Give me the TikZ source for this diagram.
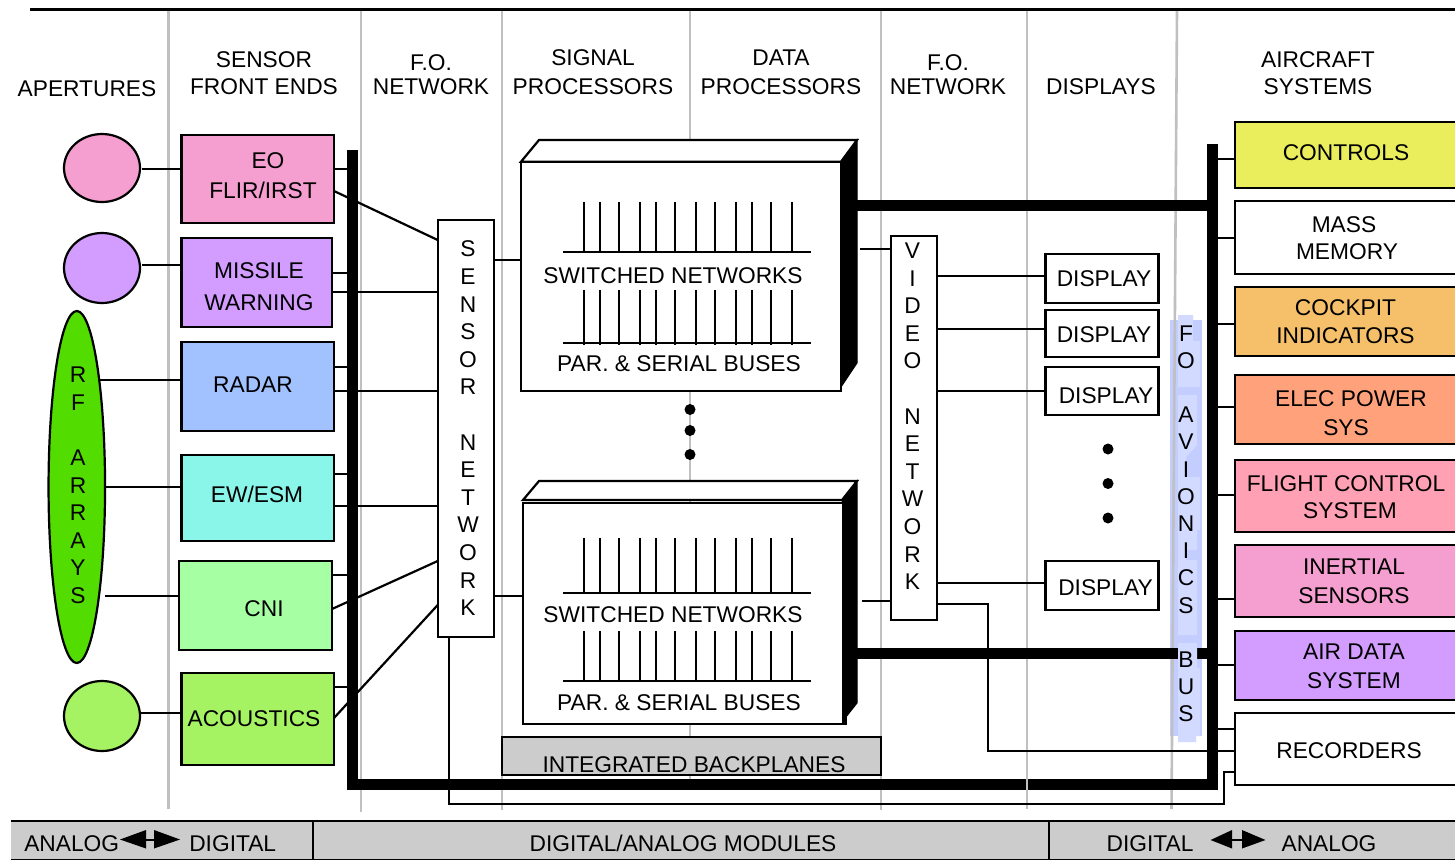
\documentclass[tikz,border=0pt]{standalone}
\usepackage{fontspec}
\setmainfont{Liberation Sans}
\usetikzlibrary{shapes.geometric,calc}
\definecolor{gridgrey}{HTML}{C0C0C0}
\definecolor{stripgrey}{HTML}{CCCCCC}
\definecolor{blueA}{HTML}{C3CEFF}
\definecolor{blueB}{HTML}{D2DBFF}
\definecolor{cPink}{HTML}{F49FCF}
\definecolor{cPurple}{HTML}{D39CFF}
\definecolor{cBlue}{HTML}{A2C1FF}
\definecolor{cCyan}{HTML}{8AF5E9}
\definecolor{cMint}{HTML}{A6FFA3}
\definecolor{cLime}{HTML}{A5F362}
\definecolor{cYellow}{HTML}{EAEE5C}
\definecolor{cOrange}{HTML}{F6BF69}
\definecolor{cSalmon}{HTML}{FFA17A}
\definecolor{cRose}{HTML}{FFA0B4}
\definecolor{cGreen}{HTML}{52DC00}
\newcommand\fsz{\fontsize{22.75}{27.6}\selectfont}
\newcommand\fszb{\fontsize{22.75}{27.2}\selectfont}
\tikzset{
  lbl/.style={font=\fsz,inner sep=0pt,outer sep=0pt,align=center,text=black,yshift=-0.8pt},
  boxn/.style={draw=black,line width=2.2pt,inner sep=0pt,outer sep=0pt,rectangle},
  solidbar/.style={fill=black,draw=none,inner sep=0pt,outer sep=0pt,rectangle},
  wire/.style={draw=black,line width=2.2pt},
  grid line/.style={draw=gridgrey,line width=2.6pt},
  apert/.style={ellipse,draw=black,line width=2.2pt,inner sep=0pt,outer sep=0pt},
  dot/.style={circle,fill=black,inner sep=0pt,minimum size=11pt},
}
% #1 name, #2 x0, #3 y0, #4 x1, #5 y1, #6 style options
\newcommand\rectn[6]{\node[#6,minimum width={(#4-#2)*1pt},minimum height={(#5-#3)*1pt}] (#1) at ({(#2+#4)/2},{(#3+#5)/2}) {};}
% horizontal connector at height #3 from anchor #1 to anchor #2
\newcommand\hw[3]{\draw[wire] (#1 |- 0,#3) -- (#2 |- 0,#3);}
\begin{document}
\begin{tikzpicture}[x=1pt,y=-1pt]
\useasboundingbox (0,0) rectangle (1455,860);
\fill[white] (0,0) rectangle (1455,860);

% FO avionics bus backing
\fill[blueA] (1170,320) rectangle (1202,736);
\fill[blueA] (1178,736) rectangle (1196,742);

% column separators
\draw[grid line] (168.5,10) -- (168.5,809);
\draw[grid line] (361,10) -- (361,812);
\draw[grid line] (502,10) -- (502,810);
\draw[grid line] (690,10) -- (690,780);
\draw[grid line] (881,10) -- (881,810);
\draw[grid line] (1027,10) -- (1027,809);
\draw[grid line] (1177,10) -- (1171.5,809);

% top rule
\draw[black,line width=3pt] (30,9.5) -- (1458,9.5);

% bottom strip
\rectn{strip}{10.7}{821}{1458}{860}{fill=stripgrey,draw=none,inner sep=0pt,outer sep=0pt,rectangle}
\draw[black,line width=2.8pt] (strip.north west) -- (strip.north east);
\draw[black,line width=1.2pt] ($(strip.south west)+(0,-0.8)$) -- ($(strip.south east)+(0,-0.8)$);
\draw[black,line width=2pt] (312.7,822) -- (312.7,860);
\draw[black,line width=2pt] (1048.6,822) -- (1048.6,860);
\node[lbl] (tAna1) at (71.7,843) {ANALOG};
\node[lbl] (tDig1) at (232.7,843) {DIGITAL};
\node[lbl] (tMod) at (683,843) {DIGITAL/ANALOG MODULES};
\node[lbl] (tDig2) at (1150,843) {DIGITAL};
\node[lbl] (tAna2) at (1329,843) {ANALOG};
\fill[black] (120,839.5) -- (146,830) -- (146,848.5) -- cycle;
\fill[black] (180,839.5) -- (154,830) -- (154,848.5) -- cycle;
\draw[black,line width=2pt] (146,839.5) -- (154,839.5);
\fill[black] (1210.6,840) -- (1232,830) -- (1232,848.5) -- cycle;
\fill[black] (1265.5,840) -- (1242,830) -- (1242,848.5) -- cycle;
\draw[black,line width=2pt] (1232,840) -- (1242,840);

% headers
\node[lbl] (hAp) at (87,88) {APERTURES};
\node[lbl] (hSen) at (264,72.5) {SENSOR\\[-0.6pt]FRONT ENDS};
\node[lbl] (hFo1) at (431,74) {F.O.\\[-3.6pt]NETWORK};
\node[lbl] (hSig) at (593,71.5) {SIGNAL\\[1.4pt]PROCESSORS};
\node[lbl] (hDat) at (781,71.5) {DATA\\[1.4pt]PROCESSORS};
\node[lbl] (hFo2) at (948,74) {F.O.\\[-3.6pt]NETWORK};
\node[lbl] (hDis) at (1101,86) {DISPLAYS};
\node[lbl] (hAir) at (1318,72.5) {AIRCRAFT\\[-0.6pt]SYSTEMS};

% bus bars
\rectn{busL}{346.7}{150}{357.5}{790}{solidbar}
\rectn{busB}{346.7}{779}{1218}{790}{solidbar}
\rectn{busR}{1207}{144}{1218}{790}{solidbar}
\rectn{busT}{855}{200}{1207}{211}{solidbar}
\rectn{busM}{855}{647.5}{1178}{659}{solidbar}
\rectn{busMb}{1197}{647.5}{1207}{659}{solidbar}
\draw[gridgrey,line width=2.6pt] (1027,779) -- (1027,790);

% apertures
\node[apert,fill=cPink,minimum width=76pt,minimum height=68pt] (ap1) at (102,168) {};
\node[apert,fill=cPurple,minimum width=76pt,minimum height=70pt] (ap2) at (102,268) {};
\node[apert,fill=cGreen,minimum width=56.5pt,minimum height=352pt] (rf) at (76.8,487) {};
\node[apert,fill=cLime,minimum width=76pt,minimum height=70pt] (ap3) at (102,716) {};
\node[lbl] (tRf) at (78,484.5) {R\\F\\[27.6pt]A\\R\\R\\A\\Y\\S};

% sensor front ends
\rectn{eo}{181.5}{134.7}{334}{223}{boxn,fill=cPink}
\rectn{mw}{181.5}{238}{332}{327}{boxn,fill=cPurple}
\rectn{radar}{181.5}{342}{334}{431}{boxn,fill=cBlue}
\rectn{ew}{181.5}{455}{334}{541}{boxn,fill=cCyan}
\rectn{cni}{179}{561}{332}{650}{boxn,fill=cMint}
\rectn{aco}{181.5}{673}{334}{765}{boxn,fill=cLime}
\node[lbl] (tEo) at (263,175) {\hspace*{10pt}EO\\[2.4pt]FLIR/IRST};
\node[lbl] (tMw) at (259,286) {MISSILE\\[4.4pt]WARNING};
\node[lbl] (tRa) at (253,384) {RADAR};
\node[lbl] (tEw) at (257,494) {EW/ESM};
\node[lbl] (tCn) at (264,608) {CNI};
\node[lbl] (tAc) at (254,718) {ACOUSTICS};

% aperture wires
\coordinate (rfA) at (98,380);
\coordinate (rfB) at (104,487);
\coordinate (rfC) at (105,596);
\coordinate (ap1r) at (142,169);
\coordinate (ap2r) at (142,265);
\coordinate (ap3r) at (140,713);
\draw[wire] (ap1r) -- (eo.west |- ap1r);
\draw[wire] (ap2r) -- (mw.west |- ap2r);
\draw[wire] (rfA) -- (radar.west |- rfA);
\draw[wire] (rfB) -- (ew.west |- rfB);
\draw[wire] (rfC) -- (cni.west |- rfC);
\draw[wire] (ap3r) -- (aco.west |- ap3r);

% stubs to left bus
\hw{eo.east}{busL.west}{169}
\hw{mw.east}{busL.west}{273}
\hw{radar.east}{busL.west}{367}
\hw{ew.east}{busL.west}{474}
\hw{cni.east}{busL.west}{575}
\hw{aco.east}{busL.west}{687}

% sensor network
\rectn{sensor}{437.7}{220}{494}{637}{boxn,fill=white}
\node[lbl] (tSe) at (468,427.5) {S\\E\\N\\S\\O\\R\\[27.6pt]N\\E\\T\\W\\O\\R\\K};
\draw[wire] (eo.east |- 0,191) -- (sensor.west |- 0,240);
\hw{mw.east}{sensor.west}{292}
\hw{radar.east}{sensor.west}{391}
\hw{ew.east}{sensor.west}{506}
\draw[wire] (cni.east |- 0,609) -- (sensor.west |- 0,561);
\draw[wire] (aco.east |- 0,718) -- (sensor.west |- 0,605);

% upper module
\filldraw[fill=white,draw=black,line width=2.2pt] (521,161.7) -- (539,140) -- (857,140) -- (841,161.7) -- cycle;
\filldraw[fill=black,draw=black,line width=1pt] (841,161.7) -- (857,140) -- (857,363) -- (841,387) -- cycle;
\rectn{modA}{520.7}{161.7}{840.7}{391}{boxn,fill=white}
\draw[wire] (563,252.3) -- (811,252.3);
\draw[wire] (563,342.7) -- (811,342.7);
\foreach \x in {584.3,600.3,619.3,640.3,656.3,675.3,696.3,715.3,736.3,752.3,771.3,792.3}{
  \draw[wire] (\x,202) -- (\x,252.3);
  \draw[wire] (\x,290) -- (\x,345);
}
\node[lbl] (tSwA) at (673,275) {SWITCHED NETWORKS};
\node[lbl] (tPaA) at (679,363) {PAR. \& SERIAL BUSES};

% lower module
\filldraw[fill=white,draw=black,line width=2.2pt] (523,500) -- (539,481) -- (857,481) -- (842,500) -- cycle;
\filldraw[fill=black,draw=black,line width=1pt] (842,502) -- (857,481) -- (857,703) -- (842,722) -- cycle;
\rectn{modB}{522.7}{503.3}{846}{724}{boxn,fill=white}
\fill[black] (842,503) rectangle (846,723);
\draw[wire] (563,593.3) -- (811,593.3);
\draw[wire] (563,681) -- (811,681);
\foreach \x in {584.3,600.3,619.3,640.3,656.3,675.3,696.3,715.3,736.3,752.3,771.3,792.3}{
  \draw[wire] (\x,538) -- (\x,593.3);
  \draw[wire] (\x,631) -- (\x,681);
}
\node[lbl] (tSwB) at (673,614) {SWITCHED NETWORKS};
\node[lbl] (tPaB) at (679,702) {PAR. \& SERIAL BUSES};

% continuation dots
\node[dot] (d1a) at (690,409.5) {};
\node[dot] (d1b) at (690,430.5) {};
\node[dot] (d1c) at (690,454.5) {};

% backplane
\rectn{back}{501.7}{737}{880.7}{775}{boxn,fill=stripgrey}
\node[lbl] (tBack) at (694,763.5) {INTEGRATED BACKPLANES};

% video network and displays
\rectn{video}{891}{236}{937}{620}{boxn,fill=white}
\node[lbl] (tVi) at (912.5,415.5) {V\\I\\D\\E\\O\\[27.6pt]N\\E\\T\\W\\O\\R\\K};
\rectn{dA}{1045.5}{254}{1158.5}{303}{boxn,fill=white}
\rectn{dB}{1045.5}{310}{1158.5}{357}{boxn,fill=white}
\rectn{dC}{1045.5}{367}{1158.5}{415}{boxn,fill=white}
\rectn{dD}{1045.5}{561}{1158.5}{610}{boxn,fill=white}
\node[lbl] (tDa) at (1104,278) {DISPLAY};
\node[lbl] (tDb) at (1104,334) {DISPLAY};
\node[lbl] (tDc) at (1106,395) {DISPLAY};
\node[lbl] (tDd) at (1105.5,586.5) {DISPLAY};
\node[dot] (d2a) at (1108,449) {};
\node[dot] (d2b) at (1108,483.5) {};
\node[dot] (d2c) at (1108,518) {};

% module wires
\hw{sensor.east}{modA.west}{260}
\hw{sensor.east}{modB.west}{596}
\coordinate (mAr) at (860,249);
\coordinate (mBr) at (862,601);
\draw[wire] (mAr) -- (video.west |- mAr);
\draw[wire] (mBr) -- (video.west |- mBr);
\hw{video.east}{dA.west}{275.7}
\hw{video.east}{dB.west}{329}
\hw{video.east}{dC.west}{391}
\hw{video.east}{dD.west}{583}

% avionics bus light patches
\fill[blueB] (1178,315) -- (1193,315) -- (1193,341) -- (1200,341) -- (1200,387) -- (1178,387) -- cycle;
\fill[blueB] (1178,395) -- (1197,395) -- (1197,445) -- (1186,457) -- (1186,477) -- (1200,477) -- (1200,530) -- (1197,530) -- (1197,550) -- (1186,550) -- (1186,560) -- (1197,560) -- (1197,635) -- (1178,635) -- cycle;
\fill[blueB] (1178,643) -- (1197,643) -- (1197,668) -- (1200,668) -- (1200,736) -- (1196,736) -- (1196,742) -- (1178,742) -- cycle;
\node[lbl,font=\fszb] (tFo) at (1186,523) {F\\O\\[27.2pt]A\\V\\I\\O\\N\\I\\C\\S\\[27.2pt]B\\U\\S};

% aircraft systems
\rectn{ctl}{1235}{122}{1458}{188}{boxn,fill=cYellow}
\rectn{mem}{1235}{201}{1458}{274}{boxn,fill=white}
\rectn{ckp}{1235}{287}{1458}{356}{boxn,fill=cOrange}
\rectn{elc}{1235}{374.7}{1458}{444}{boxn,fill=cSalmon}
\rectn{flt}{1235}{460}{1458}{532}{boxn,fill=cRose}
\rectn{ins}{1235}{545}{1458}{617}{boxn,fill=cPink}
\rectn{adt}{1235}{631}{1458}{700}{boxn,fill=cPurple}
\rectn{rec}{1235}{713}{1458}{785}{boxn,fill=white}
\node[lbl] (tCt) at (1346,152) {CONTROLS};
\node[lbl] (tMe) at (1347,237.5) {MASS\hspace*{6pt}\\[-0.6pt]MEMORY};
\node[lbl] (tCk) at (1345.5,321) {COCKPIT\\[0.4pt]INDICATORS};
\node[lbl] (tEl) at (1351,412.5) {ELEC POWER\\[1.4pt]\hspace*{-10pt}SYS};
\node[lbl] (tFl) at (1346,496.5) {FLIGHT CONTROL\\[-0.6pt]\hspace*{8pt}SYSTEM};
\node[lbl] (tIn) at (1354,580.5) {INERTIAL\\[1.4pt]SENSORS};
\node[lbl] (tAd) at (1354,665.5) {AIR DATA\\[1.4pt]SYSTEM};
\node[lbl] (tRe) at (1349,750) {RECORDERS};
\hw{busR.east}{ctl.west}{159}
\hw{busR.east}{mem.west}{238}
\hw{busR.east}{ckp.west}{324}
\hw{busR.east}{elc.west}{406.7}
\hw{busR.east}{flt.west}{495}
\hw{busR.east}{ins.west}{599}
\hw{busR.east}{adt.west}{665}
\hw{busR.east}{rec.west}{729}

% long wires to recorders
\coordinate (vA) at (988,604);
\coordinate (vB) at (988,751);
\draw[wire] (video.east |- vA) -- (vA) -- (vB) -- (rec.west |- vB);
\coordinate (sA) at (449,804);
\coordinate (sB) at (1224,804);
\coordinate (sC) at (1224,772);
\draw[wire] (sA |- sensor.south) -- (sA) -- (sB) -- (sC) -- (rec.west |- sC);
\end{tikzpicture}
\end{document}
